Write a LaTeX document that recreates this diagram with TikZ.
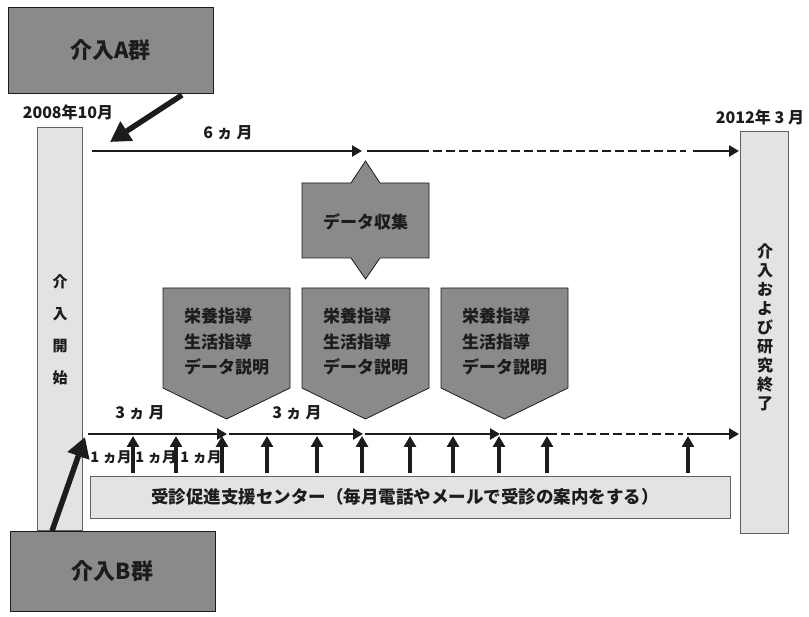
\documentclass[tikz,border=0pt]{standalone}
\usepackage{fontspec}
\setmainfont{Noto Sans CJK JP}
\usetikzlibrary{arrows.meta}
\definecolor{dk}{HTML}{8A8A8A}
\definecolor{lt}{HTML}{E3E3E3}
\definecolor{ink}{HTML}{1C1C1C}
\newcommand{\fs}[2]{\fontsize{#1}{#2}\selectfont}
\begin{document}
\begin{tikzpicture}[x=1pt,y=-1pt,
  darkbox/.style={draw=ink, line width=0.8pt, fill=dk},
  lightbar/.style={draw=ink!70, line width=0.7pt, fill=lt},
  lbl/.style={text=ink, inner sep=0pt},
  tl/.style={draw=ink, line width=2.8pt, -{Triangle[length=10pt,width=11pt]}},
  tlplain/.style={draw=ink, line width=2.8pt},
  tldash/.style={draw=ink, line width=2.8pt, dash pattern=on 9pt off 4pt},
  uparrow/.style={draw=ink, line width=3.3pt, -{Triangle[length=11pt,width=12pt]}},
  bigarrow/.style={draw=ink, line width=5.5pt, -{Triangle[length=20pt,width=22pt]}}
]
\useasboundingbox (0,0) rectangle (809,617);

% group boxes
\node[darkbox, minimum width=205pt, minimum height=86pt, inner sep=0pt, text=ink, font=\fs{22}{26}\bfseries] (A) at (110.5,50) {介入A群};
\node[darkbox, minimum width=205pt, minimum height=80pt, inner sep=0pt, text=ink, font=\fs{22}{26}\bfseries] (B) at (112.5,571) {介入B群};

% bars
\node[lightbar, minimum width=45pt, minimum height=403pt, inner sep=0pt] (L) at (60,328.5) {};
\node[lbl, font=\fs{15}{32}\bfseries, align=center] (Ltext) at (60,330) {介\\入\\開\\始};
\node[lightbar, minimum width=48pt, minimum height=402pt, inner sep=0pt] (R) at (764,332) {};
\node[lbl, font=\fs{16}{19}\bfseries, align=center] (Rtext) at (765,327) {介\\入\\お\\よ\\び\\研\\究\\終\\了};

% dates
\node[lbl, font=\fs{16}{18}\bfseries] (d1) at (68,112) {2008年10月};
\node[lbl, font=\fs{16}{18}\bfseries] (d2) at (760,117) {2012年 3 月};

% big arrows from groups
\coordinate (Aend) at (110,142);
\coordinate (Astart) at (182,95);
\draw[bigarrow] (Astart) -- (Aend);
\coordinate (Bstart) at (52,531);
\coordinate (Bend) at (85,437);
\draw[bigarrow] (Bstart) -- (Bend);

% top timeline
\coordinate (t0) at (92,151);
\coordinate (t1) at (362,151);
\coordinate (t2) at (367,151);
\coordinate (t3) at (420,151);
\coordinate (t4) at (686,151);
\coordinate (t5) at (693,151);
\coordinate (t6) at (739,151);
\draw[tl] (t0) -- (t1);
\draw[tlplain] (t2) -- (t3);
\draw[tldash] (t3) -- (t4);
\draw[tl] (t5) -- (t6);
\node[lbl, font=\fs{16}{18}\bfseries] (m6) at (228,133) {6 ヵ 月};

% data collection shape
\draw[darkbox] (302,183) -- (351,183) -- (365.5,161) -- (380,183) -- (429,183)
  -- (429,258) -- (380,258) -- (365.5,279) -- (351,258) -- (302,258) -- cycle;
\node[lbl, font=\fs{17}{20}\bfseries] (dc) at (365.5,222) {データ収集};

% chevrons
\foreach \xl/\nm in {163/c1,302/c2,441/c3}{
  \draw[darkbox] (\xl,288) -- (\xl+127,288) -- (\xl+127,388) -- (\xl+63.5,419) -- (\xl,388) -- cycle;
  \node[lbl, font=\fs{17}{25.5}\bfseries, align=left] (\nm) at (\xl+63.5,342) {栄養指導\\生活指導\\データ説明};
}

% bottom timeline
\coordinate (b0) at (88,434);
\coordinate (b1) at (227,434);
\coordinate (b1s) at (229,434);
\coordinate (b2) at (363,434);
\coordinate (b2s) at (365,434);
\coordinate (b3) at (500,434);
\coordinate (b3s) at (500,434);
\coordinate (b4) at (548,434);
\coordinate (b5) at (683,434);
\coordinate (b6) at (687,434);
\coordinate (b7) at (739,434);
\draw[tl] (b0) -- (b1);
\draw[tl] (b1s) -- (b2);
\draw[tl] (b2s) -- (b3);
\draw[tlplain] (b3s) -- (b4);
\draw[tldash] (b4) -- (b5);
\draw[tl] (b6) -- (b7);

\node[lbl, font=\fs{16}{18}\bfseries] (m3a) at (140,413) {3 ヵ 月};
\node[lbl, font=\fs{16}{18}\bfseries] (m3b) at (297,413) {3 ヵ 月};
\node[lbl, font=\fs{14.5}{16}\bfseries] (m1a) at (111,457) {1 ヵ月};
\node[lbl, font=\fs{14.5}{16}\bfseries] (m1b) at (156,457) {1 ヵ月};
\node[lbl, font=\fs{14.5}{16}\bfseries] (m1c) at (201,457) {1 ヵ月};

% support center box
\node[lightbar, minimum width=640pt, minimum height=42pt, inner sep=0pt] (S) at (410,497) {};
\node[lbl, font=\fs{17.5}{20}\bfseries] (Stext) at (405,497) {受診促進支援センター（毎月電話やメールで受診の案内をする）};

% monthly up arrows
\foreach \x [count=\i] in {133,176,222,267,317,362,410,453,499,547,688}{
  \coordinate (ub\i) at (\x,473);
  \coordinate (ut\i) at (\x,436);
  \draw[uparrow] (ub\i) -- (ut\i);
}
\end{tikzpicture}
\end{document}
